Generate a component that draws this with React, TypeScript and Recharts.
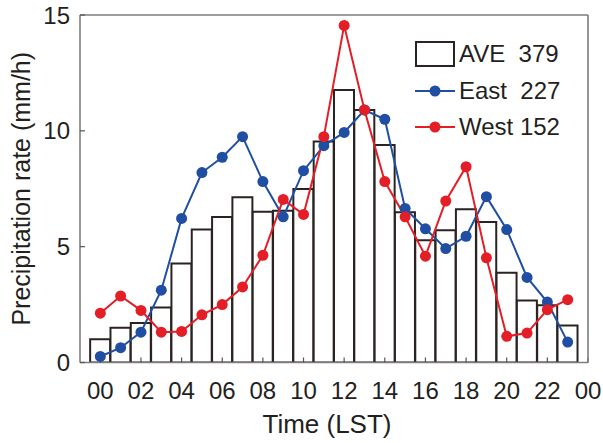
import React from 'react';
import { ComposedChart, Bar, Line, XAxis, YAxis, Legend } from 'recharts';

// hourly precipitation rate (mm/h), local solar time
const hours = [0, 1, 2, 3, 4, 5, 6, 7, 8, 9, 10, 11, 12, 13, 14, 15, 16, 17, 18, 19, 20, 21, 22, 23];
const aveRate = [1.0, 1.5, 1.7, 2.37, 4.27, 5.74, 6.28, 7.13, 6.51, 6.55, 7.49, 9.54, 11.76, 10.9, 9.39, 6.49, 5.28, 5.71, 6.62, 6.07, 3.87, 2.68, 2.47, 1.6];
const eastRate = [0.26, 0.64, 1.31, 3.12, 6.22, 8.2, 8.86, 9.75, 7.81, 6.29, 8.28, 9.36, 9.93, 10.9, 10.5, 6.65, 5.77, 4.92, 5.45, 7.16, 5.74, 3.67, 2.61, 0.88];
const westRate = [2.13, 2.87, 2.25, 1.31, 1.34, 2.06, 2.5, 3.26, 4.63, 7.04, 6.39, 9.75, 14.55, 10.9, 7.81, 6.29, 4.59, 6.97, 8.45, 4.52, 1.13, 1.27, 2.28, 2.71];

const hourTicks = [0, 2, 4, 6, 8, 10, 12, 14, 16, 18, 20, 22, 24];
const hourLabels = ['00', '02', '04', '06', '08', '10', '12', '14', '16', '18', '20', '22', '00'];
const rateTicks = [0, 5, 10, 15];
const legendLabels = ['AVE  379', 'East  227', 'West 152'];

const data = hours.map((hour, i) => ({
  hour,
  ave: aveRate[i],
  east: eastRate[i],
  west: westRate[i],
}));

const FONT = '"Liberation Sans", Arial, Helvetica, sans-serif';
const INK = '#231f20';
const FRAME = '#7d7d7d';
const BAR_EDGE = '#2a2321';
const EAST = '#1f4ea3';
const WEST = '#e41e26';

const frameLine = { stroke: FRAME, strokeWidth: 1.6 };
const tickMark = { stroke: '#555', strokeWidth: 1.2 };
const tickText = { fill: INK, fontSize: 24, fontFamily: FONT };

const LegendBox = () => {
  const colors = [BAR_EDGE, EAST, WEST];
  return (
    <div style={{ fontFamily: FONT, fontSize: 24, color: INK, lineHeight: 1 }}>
      {legendLabels.map((label, i) => (
        <div key={label} style={{ display: 'flex', alignItems: 'center', height: 36.5 }}>
          <svg width={40} height={26} style={{ display: 'block' }}>
            {i === 0 ? (
              <rect x={1} y={1} width={38} height={24} fill="#fff" stroke={BAR_EDGE} strokeWidth={2} />
            ) : (
              <>
                <line x1={0} x2={40} y1={13} y2={13} stroke={colors[i]} strokeWidth={2} />
                <circle cx={20} cy={13} r={5.5} fill={colors[i]} />
              </>
            )}
          </svg>
          <span style={{ marginLeft: 4, whiteSpace: 'pre' }}>{label}</span>
        </div>
      ))}
    </div>
  );
};

export default function App() {
  return (
    <div style={{ position: 'absolute', left: 0, top: 0, background: '#fff' }}>
      <ComposedChart
        width={603}
        height={443}
        data={data}
        margin={{ top: 14, right: 14, bottom: 0, left: 0 }}
      >
        <XAxis
          dataKey="hour"
          type="number"
          domain={[-1, 24]}
          ticks={hourTicks}
          interval={0}
          allowDataOverflow
          tickFormatter={(v: number) => hourLabels[hourTicks.indexOf(v)]}
          height={80.5}
          tickSize={-5}
          tickMargin={24.5}
          axisLine={frameLine}
          tickLine={tickMark}
          tick={tickText}
          label={{
            value: 'Time (LST)',
            position: 'insideBottom',
            offset: 10,
            dx: -7,
            fill: INK,
            fontSize: 26,
            fontFamily: FONT,
          }}
        />
        <XAxis
          xAxisId="top"
          orientation="top"
          type="number"
          domain={[-1, 24]}
          ticks={hourTicks}
          interval={0}
          allowDataOverflow
          height={1}
          tick={false}
          tickSize={-5}
          axisLine={frameLine}
          tickLine={tickMark}
        />
        <YAxis
          type="number"
          domain={[0, 15]}
          ticks={rateTicks}
          interval={0}
          allowDataOverflow
          width={80}
          tickSize={-5}
          tickMargin={15}
          axisLine={frameLine}
          tickLine={tickMark}
          tick={tickText}
          label={{
            value: 'Precipitation rate (mm/h)',
            angle: -90,
            position: 'insideLeft',
            offset: 21,
            fill: INK,
            fontSize: 25,
            fontFamily: FONT,
            style: { textAnchor: 'middle' },
          }}
        />
        <YAxis
          yAxisId="right"
          orientation="right"
          type="number"
          domain={[0, 15]}
          ticks={rateTicks}
          interval={0}
          allowDataOverflow
          width={1}
          tick={false}
          tickSize={-5}
          axisLine={frameLine}
          tickLine={tickMark}
        />
        <Bar
          dataKey="ave"
          name="AVE"
          barSize={20}
          fill="#fff"
          stroke={BAR_EDGE}
          strokeWidth={2}
          isAnimationActive={false}
        />
        <Line
          dataKey="east"
          name="East"
          type="linear"
          stroke={EAST}
          strokeWidth={2}
          dot={{ r: 5.5, fill: EAST, stroke: EAST, strokeWidth: 0 }}
          activeDot={false}
          isAnimationActive={false}
        />
        <Line
          dataKey="west"
          name="West"
          type="linear"
          stroke={WEST}
          strokeWidth={2}
          dot={{ r: 5.5, fill: WEST, stroke: WEST, strokeWidth: 0 }}
          activeDot={false}
          isAnimationActive={false}
        />
        <Legend
          layout="vertical"
          align="center"
          verticalAlign="middle"
          content={() => <LegendBox />}
          wrapperStyle={{ left: 415, top: 36, width: 190, height: 'auto' }}
        />
      </ComposedChart>
    </div>
  );
}
